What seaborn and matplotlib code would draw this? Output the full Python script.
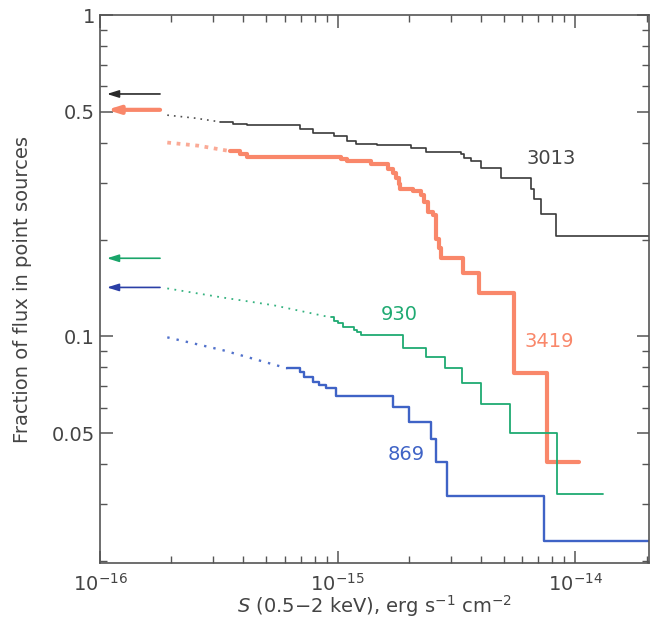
import numpy as np
import pandas as pd
import seaborn as sns
import matplotlib
matplotlib.use("Agg")
import matplotlib.pyplot as plt
from matplotlib.ticker import LogLocator, NullFormatter, FixedLocator, FixedFormatter

# ---------------- data ----------------
# 3013 (black)
s3013 = [3.21e-16, 3.64e-16, 4.17e-16, 6.98e-16, 7.92e-16, 9.62e-16, 1.10e-15, 1.19e-15,
         1.47e-15, 2.03e-15, 2.35e-15, 3.30e-15, 3.40e-15, 3.64e-15, 4.01e-15, 4.87e-15,
         6.52e-15, 6.71e-15, 7.19e-15, 8.31e-15, 2.2e-14]
f3013 = [0.465, 0.459, 0.455, 0.443, 0.430, 0.421, 0.406, 0.398,
         0.395, 0.386, 0.375, 0.370, 0.360, 0.352, 0.335, 0.312,
         0.288, 0.268, 0.241, 0.206, 0.206]
s3013_ext = [1.92e-16, 2.5e-16, 3.21e-16]
f3013_ext = [0.488, 0.478, 0.465]

# 3419 (red)
s3419 = [3.54e-16, 3.90e-16, 4.17e-16, 1.03e-15, 1.10e-15, 1.38e-15, 1.63e-15, 1.71e-15,
         1.76e-15, 1.81e-15, 1.84e-15, 2.07e-15, 2.24e-15, 2.31e-15, 2.40e-15, 2.52e-15,
         2.59e-15, 2.67e-15, 2.72e-15, 3.37e-15, 3.93e-15, 5.53e-15, 7.62e-15, 1.04e-14]
f3419 = [0.377, 0.370, 0.362, 0.357, 0.352, 0.345, 0.332, 0.323,
         0.312, 0.299, 0.288, 0.284, 0.276, 0.261, 0.243, 0.239,
         0.201, 0.188, 0.175, 0.157, 0.136, 0.0767, 0.0406, 0.0406]
s3419_ext = [1.92e-16, 2.6e-16, 3.54e-16]
f3419_ext = [0.401, 0.392, 0.377]

# 930 (green)
s930 = [9.34e-16, 9.62e-16, 1.0e-15, 1.05e-15, 1.17e-15, 1.21e-15, 1.25e-15, 1.88e-15,
        2.35e-15, 2.83e-15, 3.34e-15, 4.01e-15, 5.32e-15, 8.39e-15, 1.31e-14]
f930 = [0.1146, 0.112, 0.1098, 0.1067, 0.105, 0.1029, 0.1007, 0.0918,
        0.0861, 0.0796, 0.0715, 0.0615, 0.0500, 0.0323, 0.0323]
s930_ext = [1.92e-16, 3.30e-16, 5.37e-16, 9.34e-16]
f930_ext = [0.141, 0.132, 0.125, 0.1146]

# 869 (blue)
s869 = [6.15e-16, 6.98e-16, 7.19e-16, 7.92e-16, 8.32e-16, 8.90e-16, 9.81e-16, 1.71e-15,
        1.99e-15, 2.47e-15, 2.59e-15, 2.88e-15, 7.40e-15, 2.2e-14]
f869 = [0.0795, 0.0773, 0.0746, 0.0720, 0.0705, 0.0690, 0.0651, 0.0602,
        0.0541, 0.0479, 0.0406, 0.0318, 0.0231, 0.0231]
s869_ext = [1.92e-16, 3.30e-16, 6.15e-16]
f869_ext = [0.0993, 0.0905, 0.0795]

# total (arrows at left)
arrow_vals = {"3013": 0.568, "3419": 0.507, "930": 0.175, "869": 0.142}
arrow_x = (1.79e-16, 1.07e-16)

labels = ["3013", "3419", "930", "869"]
label_pos = {"3013": (7.9e-15, 0.357), "3419": (7.76e-15, 0.0965),
             "930": (1.81e-15, 0.117), "869": (1.95e-15, 0.043)}

xticks = [1e-16, 1e-15, 1e-14]
xticklabels = [r"$10^{-16}$", r"$10^{-15}$", r"$10^{-14}$"]
yticks = [0.05, 0.1, 0.5, 1]
yticklabels = ["0.05", "0.1", "0.5", "1"]

# ---------------- style ----------------
sns.set_style("ticks")
plt.rcParams["font.family"] = ["DejaVu Sans"]
plt.rcParams["mathtext.fontset"] = "dejavusans"

colors = {"3013": "#3a3a3a", "3419": "#F9876A", "930": "#1FAA72", "869": "#3F63C6"}
arrow_colors = {"3013": "#2a2a2a", "3419": "#F4583E", "930": "#1AA56A", "869": "#2B3FA6"}
widths = {"3013": 1.2, "3419": 3.0, "930": 1.3, "869": 1.7}
text_col = "#444444"

fig = plt.figure(figsize=(6.5, 6.27), dpi=100)
ax = fig.add_axes([0.1538, 0.102, 0.845, 0.874])
ax.set_xscale("log")
ax.set_yscale("log")

series = {
    "3013": (s3013, f3013, s3013_ext, f3013_ext),
    "3419": (s3419, f3419, s3419_ext, f3419_ext),
    "930": (s930, f930, s930_ext, f930_ext),
    "869": (s869, f869, s869_ext, f869_ext),
}

for name in labels:
    s, f, se, fe = series[name]
    df = pd.DataFrame({"S": s, "F": f})
    dfe = pd.DataFrame({"S": se, "F": fe})
    sns.lineplot(data=dfe, x="S", y="F", ax=ax, estimator=None, sort=False,
                 color=colors[name], lw=widths[name] * (1.0 if name != "3419" else 0.9),
                 linestyle=(0, (1, 3)) if name != "3419" else (0, (1, 1.5)),
                 alpha=0.9 if name != "3419" else 0.7)
    sns.lineplot(data=df, x="S", y="F", ax=ax, estimator=None, sort=False,
                 color=colors[name], lw=widths[name], drawstyle="steps-post")
    ax.annotate("", xy=(arrow_x[1], arrow_vals[name]), xytext=(arrow_x[0], arrow_vals[name]),
                arrowprops=dict(arrowstyle="-|>,head_length=0.7,head_width=0.22",
                                color=arrow_colors[name] if name != "3419" else colors[name],
                                lw=widths[name] if name == "3419" else 1.2,
                                shrinkA=0, shrinkB=0))
    ax.text(label_pos[name][0], label_pos[name][1], name, color=colors[name] if name != "3013" else text_col,
            fontsize=14, ha="center", va="center")

ax.set_xlim(1e-16, 2.05e-14)
ax.set_ylim(0.0197, 1.0)

ax.xaxis.set_major_locator(FixedLocator(xticks))
ax.xaxis.set_major_formatter(FixedFormatter(xticklabels))
ax.xaxis.set_minor_locator(LogLocator(base=10, subs=np.arange(2, 10)))
ax.xaxis.set_minor_formatter(NullFormatter())
ax.yaxis.set_major_locator(FixedLocator(yticks))
ax.yaxis.set_major_formatter(FixedFormatter(yticklabels))
ax.yaxis.set_minor_locator(LogLocator(base=10, subs=np.arange(2, 10)))
ax.yaxis.set_minor_formatter(NullFormatter())

ax.tick_params(which="both", direction="in", top=True, right=True, colors="#555555",
               labelcolor=text_col, labelsize=14)
ax.tick_params(which="major", length=9, width=1.1)
ax.tick_params(which="minor", length=5, width=1.0)
ax.tick_params(axis="x", pad=7)
for sp in ax.spines.values():
    sp.set_color("#555555")
    sp.set_linewidth(1.2)

ax.set_xlabel(r"$S$ (0.5$-$2 keV), erg s$^{-1}$ cm$^{-2}$", fontsize=14, color=text_col, labelpad=-1)
ax.set_ylabel("Fraction of flux in point sources", fontsize=14, color=text_col, labelpad=14)

fig.savefig("out.png", dpi=100)
